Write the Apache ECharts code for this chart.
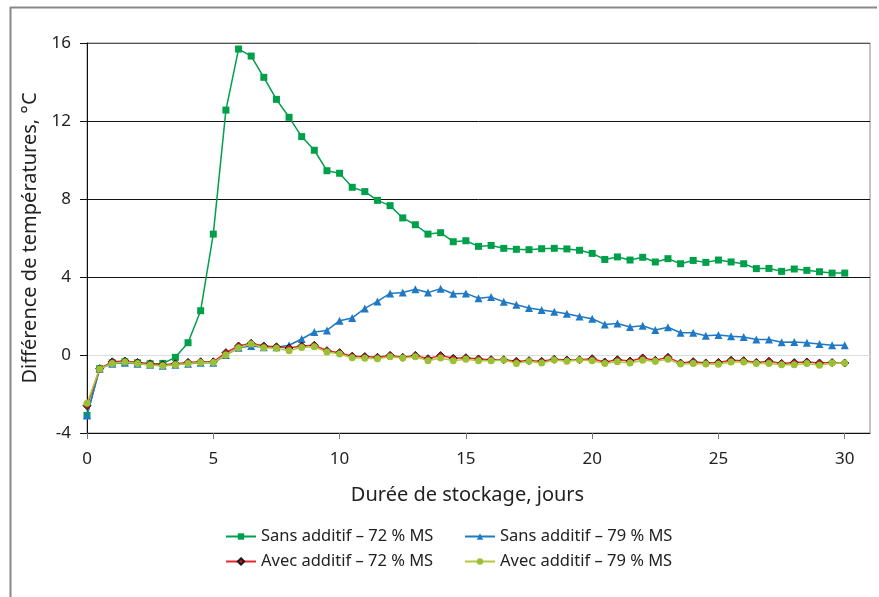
<!DOCTYPE html>
<html>
<head>
<meta charset="utf-8">
<script src="https://cdn.jsdelivr.net/npm/echarts@6/dist/echarts.min.js"></script>
<style>
  html, body { margin: 0; padding: 0; background: #fff; }
  #chart { width: 879px; height: 597px; }
</style>
</head>
<body>
<div id="chart"></div>
<script>
// Storage duration in days (one reading every half day)
const days = [0, 0.5, 1, 1.5, 2, 2.5, 3, 3.5, 4, 4.5, 5, 5.5, 6, 6.5, 7, 7.5, 8, 8.5, 9, 9.5,
  10, 10.5, 11, 11.5, 12, 12.5, 13, 13.5, 14, 14.5, 15, 15.5, 16, 16.5, 17, 17.5, 18, 18.5, 19, 19.5,
  20, 20.5, 21, 21.5, 22, 22.5, 23, 23.5, 24, 24.5, 25, 25.5, 26, 26.5, 27, 27.5, 28, 28.5, 29, 29.5, 30];

const sansAdditif72 = [-3.1, -0.7, -0.4, -0.35, -0.4, -0.45, -0.43, -0.12, 0.63, 2.27, 6.2, 12.56, 15.69, 15.33, 14.24, 13.11,
  12.19, 11.2, 10.5, 9.45, 9.32, 8.6, 8.38, 7.93, 7.66, 7.03, 6.68, 6.2, 6.27, 5.81, 5.86, 5.57, 5.62, 5.47, 5.42, 5.4,
  5.45, 5.47, 5.44, 5.37, 5.21, 4.9, 5.03, 4.87, 5.01, 4.77, 4.94, 4.68, 4.85, 4.75, 4.87, 4.77, 4.68, 4.43, 4.44, 4.29,
  4.41, 4.34, 4.27, 4.2, 4.2];

const sansAdditif79 = [-3.1, -0.7, -0.45, -0.4, -0.45, -0.5, -0.55, -0.5, -0.45, -0.4, -0.4, 0.0, 0.37, 0.46, 0.4, 0.4,
  0.5, 0.82, 1.18, 1.26, 1.76, 1.9, 2.39, 2.75, 3.16, 3.21, 3.37, 3.2, 3.4, 3.14, 3.16, 2.91, 2.97, 2.73, 2.58, 2.41,
  2.31, 2.22, 2.12, 1.97, 1.86, 1.57, 1.62, 1.44, 1.5, 1.28, 1.42, 1.14, 1.14, 0.99, 1.03, 0.96, 0.92, 0.79, 0.79, 0.65,
  0.67, 0.63, 0.56, 0.5, 0.5];

const avecAdditif72 = [-2.6, -0.7, -0.35, -0.31, -0.38, -0.45, -0.5, -0.45, -0.38, -0.35, -0.35, 0.12, 0.46, 0.6, 0.46, 0.42,
  0.36, 0.46, 0.5, 0.22, 0.12, -0.06, -0.08, -0.12, -0.02, -0.12, -0.02, -0.19, -0.03, -0.17, -0.14, -0.2, -0.24, -0.24, -0.32, -0.29,
  -0.32, -0.22, -0.26, -0.24, -0.19, -0.36, -0.24, -0.31, -0.15, -0.27, -0.12, -0.41, -0.34, -0.41, -0.38, -0.27, -0.29, -0.38, -0.32, -0.43,
  -0.39, -0.36, -0.41, -0.39, -0.41];

const avecAdditif79 = [-2.48, -0.72, -0.43, -0.36, -0.43, -0.51, -0.55, -0.5, -0.43, -0.39, -0.39, 0.0, 0.37, 0.56, 0.37, 0.34,
  0.22, 0.39, 0.42, 0.15, 0.05, -0.14, -0.17, -0.19, -0.09, -0.15, -0.09, -0.29, -0.15, -0.29, -0.22, -0.29, -0.29, -0.26, -0.43, -0.32,
  -0.41, -0.26, -0.32, -0.26, -0.29, -0.43, -0.34, -0.41, -0.27, -0.32, -0.22, -0.46, -0.43, -0.46, -0.48, -0.36, -0.36, -0.43, -0.43, -0.5,
  -0.5, -0.43, -0.53, -0.41, -0.41];

const seriesNames = ['Sans additif – 72 % MS', 'Sans additif – 79 % MS', 'Avec additif – 72 % MS', 'Avec additif – 79 % MS'];
const xTicks = [0, 5, 10, 15, 20, 25, 30];

const FONT = '"Noto Sans", "Open Sans", sans-serif';

function pairs(ys) {
  return days.map((d, i) => [d, ys[i]]);
}

const chart = echarts.init(document.getElementById('chart'), null, { renderer: 'canvas' });

const legendBase = {
  itemWidth: 30, itemHeight: 8, itemGap: 0,
  textStyle: { fontFamily: FONT, fontSize: 16.5, color: '#222' },
  padding: 0
};

chart.setOption({
  animation: false,
  backgroundColor: '#fff',
  graphic: [
    { type: 'line', shape: { x1: 10, y1: 7.5, x2: 877, y2: 7.5 }, style: { stroke: '#888', lineWidth: 2 } },
    { type: 'line', shape: { x1: 10.5, y1: 7, x2: 10.5, y2: 597 }, style: { stroke: '#888', lineWidth: 2 } }
  ],
  grid: {
    left: 87, top: 43, right: 9, bottom: 164,
    show: true, borderColor: '#888', borderWidth: 1, backgroundColor: 'transparent'
  },
  legend: [
    Object.assign({}, legendBase, { data: [seriesNames[0]], left: 225, top: 528 }),
    Object.assign({}, legendBase, { data: [seriesNames[1]], left: 464, top: 528 }),
    Object.assign({}, legendBase, { data: [seriesNames[2]], left: 225, top: 553 }),
    Object.assign({}, legendBase, { data: [seriesNames[3]], left: 464, top: 553 })
  ],
  xAxis: {
    type: 'value',
    min: 0, max: 31, interval: 5,
    name: 'Durée de stockage, jours',
    nameLocation: 'middle',
    nameGap: 52,
    nameTextStyle: { fontFamily: FONT, fontSize: 20, color: '#222', padding: [0, 22, 0, 0] },
    axisLine: { show: true, onZero: false, lineStyle: { color: '#111', width: 1 } },
    axisTick: { show: true, length: 6, customValues: xTicks, lineStyle: { color: '#777' } },
    axisLabel: { customValues: xTicks, margin: 18, fontFamily: FONT, fontSize: 17, color: '#222' },
    splitLine: { show: false }
  },
  yAxis: {
    type: 'value',
    min: -4, max: 16, interval: 4,
    name: 'Différence de températures, °C',
    nameLocation: 'middle',
    nameGap: 47,
    nameTextStyle: { fontFamily: FONT, fontSize: 20, color: '#222' },
    axisLine: { show: true, lineStyle: { color: '#111', width: 1 } },
    axisTick: { show: true, length: 7, lineStyle: { color: '#111' } },
    axisLabel: { margin: 16, fontFamily: FONT, fontSize: 17, color: '#222' },
    splitLine: {
      show: true,
      lineStyle: { color: ['#111', '#dddddd', '#111', '#111', '#111', '#555'], width: 1 }
    }
  },
  series: [
    {
      name: seriesNames[0], type: 'line', data: pairs(sansAdditif72),
      symbol: 'rect', symbolSize: 7,
      lineStyle: { color: '#00a04b', width: 1.5 },
      itemStyle: { color: '#00a04b' },
      z: 2
    },
    {
      name: seriesNames[1], type: 'line', data: pairs(sansAdditif79),
      symbol: 'triangle', symbolSize: 8,
      lineStyle: { color: '#2079c4', width: 1.5 },
      itemStyle: { color: '#2079c4' },
      z: 3
    },
    {
      name: seriesNames[2], type: 'line', data: pairs(avecAdditif72),
      symbol: 'diamond', symbolSize: 8,
      lineStyle: { color: '#e8262c', width: 1.5 },
      itemStyle: { color: '#c4161c', borderColor: '#1a1a1a', borderWidth: 1 },
      z: 4
    },
    {
      name: seriesNames[3], type: 'line', data: pairs(avecAdditif79),
      symbol: 'circle', symbolSize: 7,
      lineStyle: { color: '#b0c83a', width: 1.5 },
      itemStyle: { color: '#9dbf33' },
      z: 5
    }
  ]
});
</script>
</body>
</html>
